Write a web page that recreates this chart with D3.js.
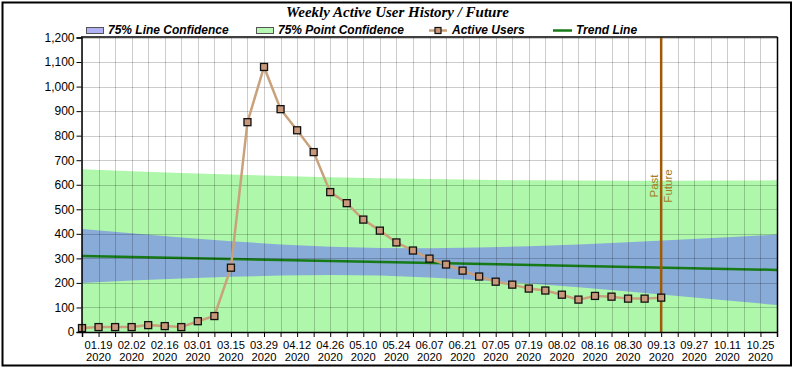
<!DOCTYPE html>
<html>
<head>
<meta charset="utf-8">
<script src="https://cdn.jsdelivr.net/npm/d3@7/dist/d3.min.js"></script>
<style>
html,body{margin:0;padding:0;background:#fff;}
svg{display:block;}
</style>
</head>
<body>
<svg id="chart" width="795" height="370"></svg>
<script>
// ---- data ----
const weeks = ["01.12","01.19","01.26","02.02","02.09","02.16","02.23","03.01","03.08","03.15","03.22","03.29",
  "04.05","04.12","04.19","04.26","05.03","05.10","05.17","05.24","05.31","06.07","06.14","06.21","06.28",
  "07.05","07.12","07.19","07.26","08.02","08.09","08.16","08.23","08.30","09.06","09.13","09.20","09.27",
  "10.04","10.11","10.18","10.25","11.01"];
const tickLabels = ["01.19","02.02","02.16","03.01","03.15","03.29","04.12","04.26","05.10","05.24","06.07",
  "06.21","07.05","07.19","08.02","08.16","08.30","09.13","09.27","10.11","10.25"];
const yearLabel = "2020";
const activeWeeks = weeks.slice(0, 36);
const activeUsers = [16,20,20,20,28,24,20,44,65,262,855,1080,908,822,733,570,525,458,413,365,332,299,275,250,
  226,205,193,177,169,152,132,147,144,136,136,140];
const bandWeeks = ["01.12","02.02","02.23","03.15","04.05","04.26","05.17","06.07","06.28","07.19","08.09",
  "08.30","09.20","10.11","11.01"];
const lineConfUpper = [420,402,385,370,357,347,342,341,344,349,357,366,376,386,397];
const lineConfLower = [200,210,218,225,230,232,230,222,211,198,182,165,147,128,110];
const pointConfUpper = [663,655,648,642,636,631,626,623,620,618,617,616,616,617,618];
const pointConfLower = [-44,-44,-44,-46,-48,-51,-55,-60,-65,-71,-78,-85,-94,-103,-112];
const trendWeeks = ["01.12","11.01"];
const trendValues = [310,253];
const splitWeek = "09.13";
const yTicks = [0,100,200,300,400,500,600,700,800,900,1000,1100,1200];
const title = "Weekly Active User History / Future";
const legendItems = ["75% Line Confidence","75% Point Confidence","Active Users","Trend Line"];

// ---- layout ----
const L = 82, R = 777, T = 37.5, B = 332;
const svg = d3.select("#chart");
const x = d3.scalePoint().domain(weeks).range([L, R]);
const y = d3.scaleLinear().domain([0, 1200]).range([B, T]);

const C = {
  lineBand: "#89abd7", pointBand: "#aef7ab", trend: "#167a16", users: "#c9a27b",
  marker: "#c9987a", split: "#a05a06", splitText: "#a57a1e"
};

svg.append("rect").attr("width",795).attr("height",370).attr("fill","#fff");
svg.append("defs").append("clipPath").attr("id","plotclip")
  .append("rect").attr("x",L).attr("y",T).attr("width",R-L).attr("height",B-T);

const plot = svg.append("g").attr("clip-path","url(#plotclip)");

const band = (up, lo) => d3.area().x((d,i)=>x(bandWeeks[i])).y0((d,i)=>y(lo[i])).y1((d,i)=>y(up[i]));
plot.append("path").datum(pointConfUpper).attr("d", band(pointConfUpper, pointConfLower)).attr("fill", C.pointBand);
plot.append("path").datum(lineConfUpper).attr("d", band(lineConfUpper, lineConfLower)).attr("fill", C.lineBand);

// grid
const grid = svg.append("g").attr("stroke","rgba(0,0,0,0.2)").attr("stroke-width",1);
weeks.forEach(w => grid.append("line").attr("x1",Math.round(x(w))+0.5).attr("x2",Math.round(x(w))+0.5).attr("y1",T).attr("y2",B));
yTicks.forEach(v => grid.append("line").attr("x1",L).attr("x2",R).attr("y1",Math.round(y(v))+0.5).attr("y2",Math.round(y(v))+0.5));

// trend
plot.append("path").datum(trendValues)
  .attr("d", d3.line().x((d,i)=>x(trendWeeks[i])).y(d=>y(d)))
  .attr("fill","none").attr("stroke",C.trend).attr("stroke-width",2.5);

// split line
svg.append("line").attr("x1",x(splitWeek)).attr("x2",x(splitWeek)).attr("y1",T).attr("y2",B+1)
  .attr("stroke",C.split).attr("stroke-width",2.5);
const sx = x(splitWeek);
svg.append("text").attr("transform",`translate(${sx-3},186) rotate(-90)`).attr("text-anchor","middle")
  .attr("font-family","Liberation Sans, Arial, sans-serif").attr("font-size",11.5).attr("fill",C.splitText).text("Past");
svg.append("text").attr("transform",`translate(${sx+10.5},186) rotate(-90)`).attr("text-anchor","middle")
  .attr("font-family","Liberation Sans, Arial, sans-serif").attr("font-size",11.5).attr("fill",C.splitText).text("Future");

// active users
svg.append("path").datum(activeUsers)
  .attr("d", d3.line().x((d,i)=>x(activeWeeks[i])).y(d=>y(d)))
  .attr("fill","none").attr("stroke",C.users).attr("stroke-width",2.5);
svg.append("g").selectAll("rect").data(activeUsers).join("rect")
  .attr("x",(d,i)=>x(activeWeeks[i])-3.5).attr("y",d=>y(d)-3.5).attr("width",7).attr("height",7)
  .attr("fill",C.marker).attr("stroke","#111").attr("stroke-width",1.3);

// axes
const font = "Liberation Sans, Arial, sans-serif";
const yAxis = svg.append("g").attr("transform",`translate(${L-0.5},0)`)
  .call(d3.axisLeft(y).tickValues(yTicks).tickSize(5).tickPadding(2).tickFormat(d3.format(",")));
yAxis.select(".domain").attr("stroke","#000").attr("stroke-width",1.5);
yAxis.selectAll("text").attr("font-family",font).attr("font-size",12).attr("fill","#000");

const xAxis = svg.append("g").attr("transform",`translate(0,${B})`)
  .call(d3.axisBottom(x).tickSize(5).tickFormat(""));
xAxis.select(".domain").attr("stroke","#000").attr("stroke-width",1.5);
const xl = svg.append("g").attr("font-family",font).attr("font-size",11.2).attr("text-anchor","middle");
tickLabels.forEach(t => {
  xl.append("text").attr("x",x(t)).attr("y",349).text(t);
  xl.append("text").attr("x",x(t)).attr("y",361).text(yearLabel);
});

// plot border top/right
svg.append("line").attr("x1",L-1).attr("x2",R+0.5).attr("y1",T-0.5).attr("y2",T-0.5).attr("stroke","#000").attr("stroke-width",1.5);
svg.append("line").attr("x1",R+0.5).attr("x2",R+0.5).attr("y1",T-0.5).attr("y2",B).attr("stroke","#000").attr("stroke-width",1.5);

// title
svg.append("text").attr("x",397.5).attr("y",17).attr("text-anchor","middle")
  .attr("font-family","Liberation Serif, Times New Roman, serif").attr("font-weight","bold").attr("font-style","italic")
  .attr("font-size",15).text(title);

// legend
const lg = svg.append("g").attr("font-family",font).attr("font-weight","bold").attr("font-style","italic").attr("font-size",12);
lg.append("rect").attr("x",86.5).attr("y",27.5).attr("width",17).attr("height",6).attr("fill","#b1b2f6").attr("stroke","#555");
lg.append("text").attr("x",108).attr("y",33.5).text(legendItems[0]);
lg.append("rect").attr("x",256.5).attr("y",27.5).attr("width",17).attr("height",6).attr("fill","#b6f8b4").attr("stroke","#555");
lg.append("text").attr("x",278).attr("y",33.5).text(legendItems[1]);
lg.append("line").attr("x1",429).attr("x2",447).attr("y1",30.5).attr("y2",30.5).attr("stroke",C.users).attr("stroke-width",2.5);
lg.append("rect").attr("x",435).attr("y",27.5).attr("width",6).attr("height",6).attr("fill",C.marker).attr("stroke","#111").attr("stroke-width",1.2);
lg.append("text").attr("x",452).attr("y",33.5).text(legendItems[2]);
lg.append("line").attr("x1",553).attr("x2",572).attr("y1",30.5).attr("y2",30.5).attr("stroke",C.trend).attr("stroke-width",2.5);
lg.append("text").attr("x",576).attr("y",33.5).text(legendItems[3]);

// outer frame
svg.append("rect").attr("x",2.5).attr("y",2.5).attr("width",788.5).attr("height",363).attr("fill","none").attr("stroke","#000").attr("stroke-width",2);
</script>
</body>
</html>
